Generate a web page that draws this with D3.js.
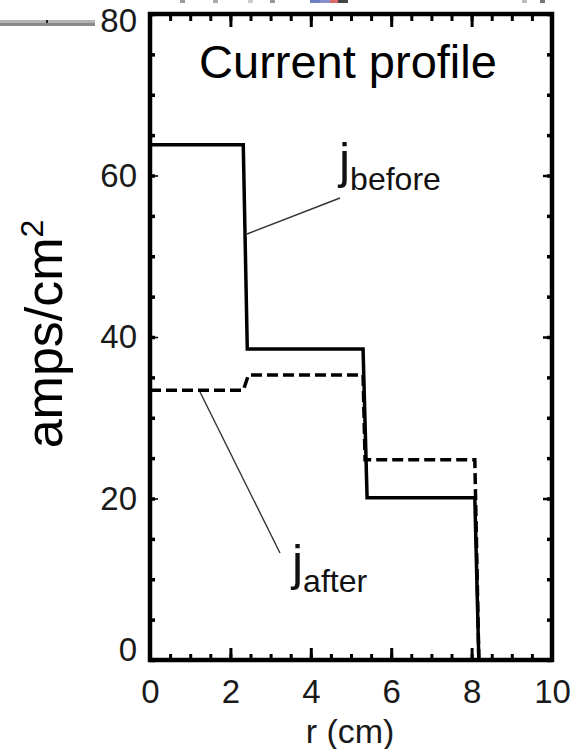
<!DOCTYPE html>
<html>
<head>
<meta charset="utf-8">
<script src="https://cdn.jsdelivr.net/npm/d3@7"></script>
<style>
  html, body { margin: 0; padding: 0; background: #ffffff; }
  svg { display: block; }
  text { font-family: "Liberation Sans", Arial, Helvetica, sans-serif; }
</style>
</head>
<body>
<svg id="chart" width="572" height="749"></svg>
<script>
// ---- data ----
const xMajorTicks = [0, 2, 4, 6, 8, 10];
const yMajorTicks = [0, 20, 40, 60, 80];
const xMinorTicks = d3.range(0, 10.001, 0.5);
const yMinorTicks = d3.range(0, 80.001, 5);

// j_before (solid): [r, j]
const jBefore = [
  [0, 63.8], [2.32, 63.8], [2.42, 38.5], [5.30, 38.5],
  [5.40, 20.1], [8.08, 20.1], [8.18, 0]
];
// j_after (dashed): [r, j]
const jAfter = [
  [0, 33.4], [2.32, 33.4], [2.45, 35.3], [5.30, 35.3],
  [5.35, 24.8], [8.08, 24.8], [8.18, 0]
];

const titleText = "Current profile";
const xLabel = "r (cm)";
const yLabel = "amps/cm";
const yLabelSup = "2";

// ---- layout ----
const svg = d3.select("#chart");
const x = d3.scaleLinear().domain([0, 10]).range([150, 552]);
const y = d3.scaleLinear().domain([0, 80]).range([660, 14]);

// small cropping remnants at the top-left of the original figure
svg.append("rect").attr("x", 0).attr("y", 20).attr("width", 95).attr("height", 3).attr("fill", "#b4b4b4");
svg.append("rect").attr("x", 0).attr("y", 23).attr("width", 95).attr("height", 3).attr("fill", "#8a8a8a");
svg.append("rect").attr("x", 46).attr("y", 20).attr("width", 2).attr("height", 3).attr("fill", "#222");
const specks = [[180, "#999"], [213, "#aaa"], [248, "#ccc"], [270, "#999"], [310, "#6d7fc4"], [320, "#8a8fcf"], [330, "#d66"], [338, "#444"], [522, "#bbb"], [540, "#777"]];
specks.forEach(s => svg.append("rect").attr("x", s[0]).attr("y", 0).attr("width", s[0] >= 310 && s[0] < 340 ? 10 : 5).attr("height", 3).attr("fill", s[1]));

// ---- ticks (inside the frame) ----
function styleAxis(g, w) {
  g.select(".domain").remove();
  g.selectAll(".tick line").attr("stroke", "#000").attr("stroke-width", w);
}
// bottom
svg.append("g").attr("transform", `translate(0,${y(0)})`)
  .call(d3.axisBottom(x).tickValues(xMinorTicks).tickSize(-6).tickFormat(""))
  .call(g => styleAxis(g, 3));
svg.append("g").attr("class", "xmajor").attr("transform", `translate(0,${y(0)})`)
  .call(d3.axisBottom(x).tickValues(xMajorTicks).tickSize(-12).tickPadding(20).tickFormat(d3.format("d")))
  .call(g => styleAxis(g, 3));
// top
svg.append("g").attr("transform", `translate(0,${y(80)})`)
  .call(d3.axisTop(x).tickValues(xMinorTicks).tickSize(-7).tickFormat(""))
  .call(g => styleAxis(g, 3));
svg.append("g").attr("transform", `translate(0,${y(80)})`)
  .call(d3.axisTop(x).tickValues(xMajorTicks).tickSize(-13).tickFormat(""))
  .call(g => styleAxis(g, 3));
// left
svg.append("g").attr("transform", `translate(${x(0)},0)`)
  .call(d3.axisLeft(y).tickValues(yMinorTicks).tickSize(-5).tickFormat(""))
  .call(g => styleAxis(g, 3.5));
svg.append("g").attr("class", "ymajor").attr("transform", `translate(${x(0)},0)`)
  .call(d3.axisLeft(y).tickValues(yMajorTicks).tickSize(-8).tickPadding(13).tickFormat(d3.format("d")))
  .call(g => styleAxis(g, 1.6));
// right
svg.append("g").attr("transform", `translate(${x(10)},0)`)
  .call(d3.axisRight(y).tickValues(yMinorTicks).tickSize(-5).tickFormat(""))
  .call(g => styleAxis(g, 3.5));
svg.append("g").attr("transform", `translate(${x(10)},0)`)
  .call(d3.axisRight(y).tickValues(yMajorTicks).tickSize(-9).tickFormat(""))
  .call(g => styleAxis(g, 2.5));

svg.selectAll(".xmajor text, .ymajor text")
  .attr("font-family", "'Liberation Sans', Arial, Helvetica, sans-serif")
  .attr("font-size", 33).attr("fill", "#1a1a1a");
// end labels nudged inward as in the original
svg.selectAll(".ymajor .tick").filter(d => d === 0).select("text").attr("dy", "0.02em");
svg.selectAll(".ymajor .tick").filter(d => d === 80).select("text").attr("dy", "0.53em");

// ---- frame ----
svg.append("rect")
  .attr("x", x(0)).attr("y", y(80))
  .attr("width", x(10) - x(0)).attr("height", y(0) - y(80))
  .attr("fill", "none").attr("stroke", "#000").attr("stroke-width", 4.5);

// ---- lines ----
const line = d3.line().x(d => x(d[0])).y(d => y(d[1]));
svg.append("path").datum(jAfter).attr("d", line)
  .attr("fill", "none").attr("stroke", "#000").attr("stroke-width", 3.5)
  .attr("stroke-dasharray", "11,5");
svg.append("path").datum(jBefore).attr("d", line)
  .attr("fill", "none").attr("stroke", "#000").attr("stroke-width", 3.5);

// ---- annotations ----
// leader lines
svg.append("line").attr("x1", 340).attr("y1", 198).attr("x2", 247).attr("y2", 234)
  .attr("stroke", "#333").attr("stroke-width", 1.4);
svg.append("line").attr("x1", 200).attr("y1", 392).attr("x2", 280).attr("y2", 553)
  .attr("stroke", "#333").attr("stroke-width", 1.4);

const tb = svg.append("text").attr("x", 339).attr("y", 178).attr("fill", "#111");
tb.append("tspan").attr("font-size", 50).text("j");
tb.append("tspan").attr("font-size", 32).attr("dy", 12).text("before");

const ta = svg.append("text").attr("x", 292).attr("y", 580).attr("fill", "#111");
ta.append("tspan").attr("font-size", 50).text("j");
ta.append("tspan").attr("font-size", 32).attr("dy", 12).text("after");

// title
svg.append("text").attr("x", 348).attr("y", 78).attr("text-anchor", "middle")
  .attr("font-size", 47).attr("fill", "#000").text(titleText);

// axis titles
svg.append("text").attr("x", 350).attr("y", 743).attr("text-anchor", "middle")
  .attr("font-size", 34).attr("fill", "#1a1a1a").text(xLabel);

const yl = svg.append("text").attr("transform", "translate(62,334) rotate(-90)")
  .attr("text-anchor", "middle").attr("font-size", 52).attr("fill", "#000");
yl.append("tspan").text(yLabel);
yl.append("tspan").attr("font-size", 32).attr("dy", -19).text(yLabelSup);
</script>
</body>
</html>
